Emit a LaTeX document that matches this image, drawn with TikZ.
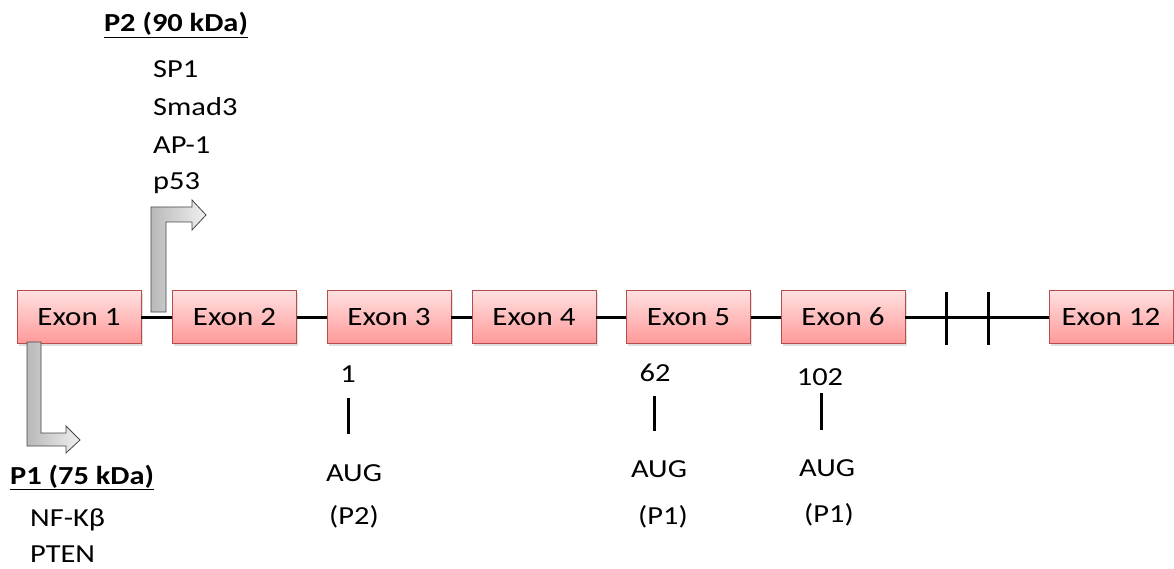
\documentclass[tikz,border=0pt]{standalone}
\usepackage{fontspec}
\setmainfont{Carlito}[FakeStretch=1.17]
\usetikzlibrary{shadows}
\begin{document}
\begin{tikzpicture}[x=1pt,y=-1pt,
  exon/.style={draw=red!60!black!70, line width=0.8pt, top color=red!12, bottom color=red!40,
    minimum width=124pt, minimum height=53pt, inner sep=0pt,
    font=\fontsize{26.5}{30}\selectfont,
    drop shadow={opacity=0.25, shadow xshift=1.5pt, shadow yshift=-2pt}},
  lbl/.style={font=\fontsize{26}{30}\selectfont, inner sep=0pt},
  ttl/.style={font=\fontsize{26}{30}\selectfont\bfseries, inner sep=0pt},
  bar/.style={line width=3pt, line cap=butt},
  garrow/.style={draw=gray!55!black, line width=0.8pt, left color=gray!55, right color=gray!12}
]
\useasboundingbox (0,0) rectangle (1174,569);
% exons
\node[exon] (e1) at (79,317) {Exon 1};
\node[exon] (e2) at (234.5,317) {Exon 2};
\node[exon] (e3) at (389,317) {Exon 3};
\node[exon] (e4) at (534,317) {Exon 4};
\node[exon] (e5) at (688.5,317) {Exon 5};
\node[exon] (e6) at (843,317) {Exon 6};
\node[exon] (e12) at (1111,317) {Exon 12};
% backbone
\coordinate (b1) at (946,317);
\coordinate (b2) at (988,317);
\draw[bar] (e1.east) -- (e2.west);
\draw[bar] (e2.east) -- (e3.west);
\draw[bar] (e3.east) -- (e4.west);
\draw[bar] (e4.east) -- (e5.west);
\draw[bar] (e5.east) -- (e6.west);
\draw[bar] (e6.east) -- (b1) -- (b2) -- (e12.west);
\draw[bar] (946,292) -- (946,345);
\draw[bar] (988,292) -- (988,345);
% promoter arrows
\path[garrow] (151,312) -- (151,207) -- (192,207) -- (192,200) -- (206,215) -- (192,230) -- (192,222) -- (166,222) -- (166,312) -- cycle;
\path[garrow] (27,342) -- (27,446) -- (66,446) -- (66,453) -- (80,440) -- (66,426) -- (66,433) -- (41,433) -- (41,342) -- cycle;
% P2 labels
\node[ttl, anchor=base] (p2t) at (176,32) {\underline{P2 (90 kDa)}};
\node[lbl, anchor=base west] (sp1) at (153,78) {SP1};
\node[lbl, anchor=base west] (smad) at (153,116) {Smad3};
\node[lbl, anchor=base west] (ap1) at (153,154) {AP-1};
\node[lbl, anchor=base west] (p53) at (153,190) {p53};
% P1 labels
\node[ttl, anchor=base west] (p1t) at (10,484) {\underline{P1 (75 kDa)}};
\node[lbl, anchor=base west] (nfk) at (30,526) {NF-Kβ};
\node[lbl, anchor=base west] (pten) at (30,562) {PTEN};
% AUG sites
\node[lbl, anchor=base] (n1) at (348,382) {1};
\node[lbl, anchor=base] (n62) at (655,381) {62};
\node[lbl, anchor=base] (n102) at (820,385) {102};
\draw[bar] (348,398) -- (348,434);
\draw[bar] (654,396) -- (654,431);
\draw[bar] (821,393) -- (821,430);
\node[lbl, anchor=base] (a1) at (354,481) {AUG};
\node[lbl, anchor=base] (q1) at (354,524) {(P2)};
\node[lbl, anchor=base] (a2) at (659,477) {AUG};
\node[lbl, anchor=base] (q2) at (663,524) {(P1)};
\node[lbl, anchor=base] (a3) at (827,476) {AUG};
\node[lbl, anchor=base] (q3) at (829,522) {(P1)};
\end{tikzpicture}
\end{document}
